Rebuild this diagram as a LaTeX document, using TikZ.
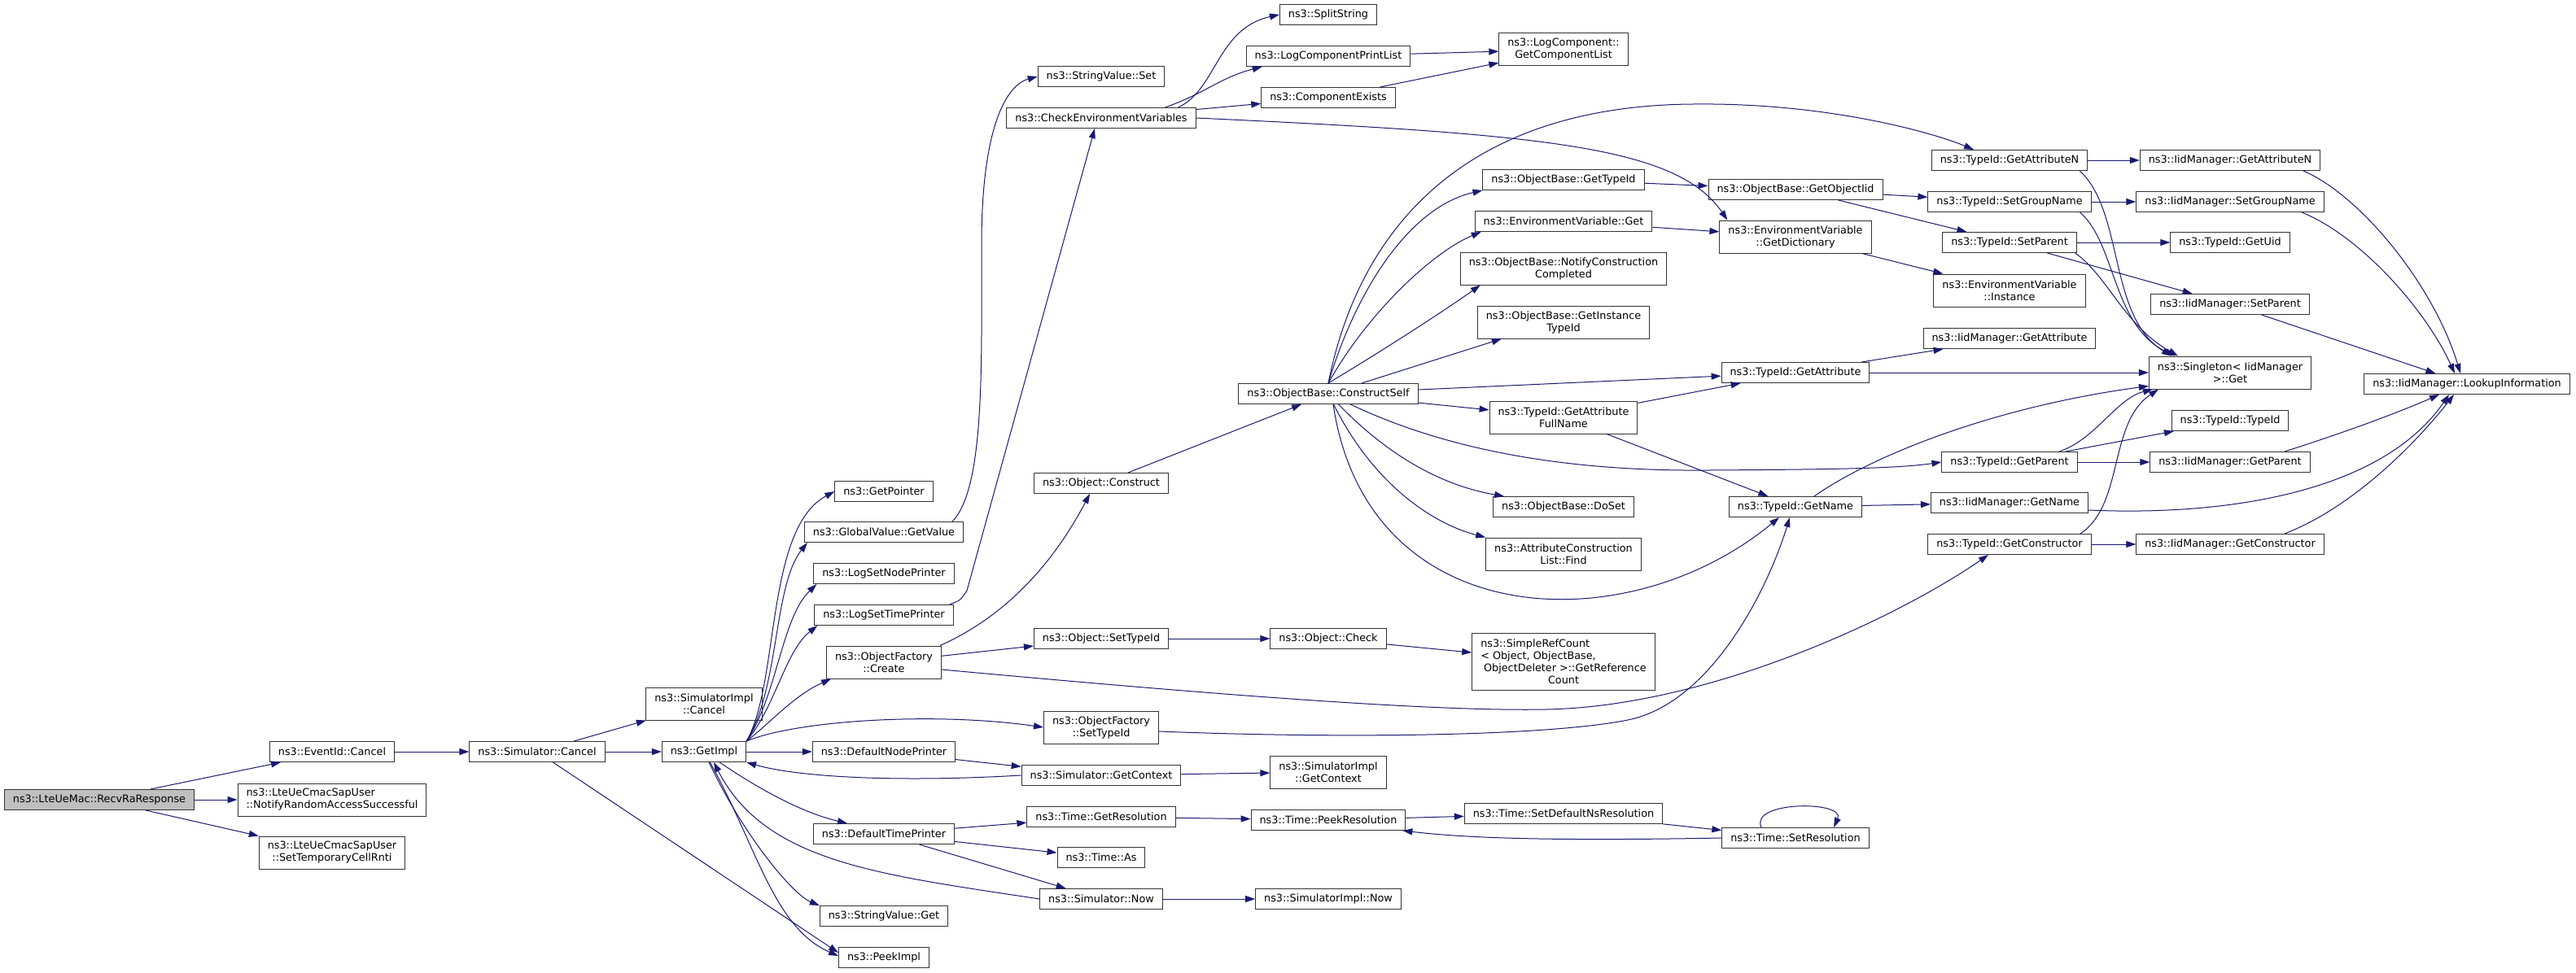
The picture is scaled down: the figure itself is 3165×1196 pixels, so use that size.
\documentclass[tikz,border=0pt]{standalone}
\usepackage{fontspec}
\setmainfont{DejaVu Sans}
\usepackage{xcolor}
\usepackage{tikz}
\usetikzlibrary{arrows.meta,positioning}
\definecolor{edgeblue}{RGB}{25,25,112}
\definecolor{rootgray}{RGB}{191,191,191}

\begin{document}
\begin{tikzpicture}[
      x=1pt, y=-1pt,
      font=\fontsize{12.8}{15}\selectfont,
      >={Triangle[length=12pt,width=8pt]},
      fn/.style={draw=black!80, fill=white, line width=1pt, inner xsep=10.5pt, inner ysep=4pt, minimum height=25pt, align=center},
      fn2/.style={fn, minimum height=40pt},
      fn4/.style={fn, minimum height=70pt},
      rootfn/.style={fn, fill=rootgray},
      calls/.style={->, draw=edgeblue, line width=1pt},
]
\useasboundingbox (0,0) rectangle (3165,1196);

\node[rootfn] (recv_ra) at (122,983) {ns3::LteUeMac::RecvRaResponse};
\node[fn] (event_cancel) at (408,924) {ns3::EventId::Cancel};
\node[fn2, align=left] (notify_ra) at (408,983) {ns3::LteUeCmacSapUser\\::NotifyRandomAccessSuccessful};
\node[fn2] (set_temp_rnti) at (408,1048) {ns3::LteUeCmacSapUser\\::SetTemporaryCellRnti};
\node[fn] (sim_cancel) at (660,924) {ns3::Simulator::Cancel};
\node[fn2] (impl_cancel) at (865,865) {ns3::SimulatorImpl\\::Cancel};
\node[fn] (get_impl) at (865,924) {ns3::GetImpl};

\node[fn] (get_pointer) at (1086,604) {ns3::GetPointer};
\node[fn] (get_value) at (1086,654) {ns3::GlobalValue::GetValue};
\node[fn] (node_printer) at (1086,705) {ns3::LogSetNodePrinter};
\node[fn] (time_printer) at (1086,756) {ns3::LogSetTimePrinter};
\node[fn2] (of_create) at (1086,814) {ns3::ObjectFactory\\::Create};
\node[fn] (def_node) at (1086,924) {ns3::DefaultNodePrinter};
\node[fn] (def_time) at (1086,1025) {ns3::DefaultTimePrinter};
\node[fn] (sv_get) at (1086,1126) {ns3::StringValue::Get};
\node[fn] (peek_impl) at (1086,1177) {ns3::PeekImpl};

\node[fn] (sv_set) at (1353,94) {ns3::StringValue::Set};
\node[fn] (check_env) at (1353,145) {ns3::CheckEnvironmentVariables};
\node[fn] (construct) at (1353,594) {ns3::Object::Construct};
\node[fn] (obj_settid) at (1353,785) {ns3::Object::SetTypeId};
\node[fn2] (of_settid) at (1353,894) {ns3::ObjectFactory\\::SetTypeId};
\node[fn] (sim_ctx) at (1353,953) {ns3::Simulator::GetContext};
\node[fn] (get_res) at (1353,1004) {ns3::Time::GetResolution};
\node[fn] (time_as) at (1353,1054) {ns3::Time::As};
\node[fn] (sim_now) at (1353,1105) {ns3::Simulator::Now};

\node[fn] (split_string) at (1632,18) {ns3::SplitString};
\node[fn] (print_list) at (1632,69) {ns3::LogComponentPrintList};
\node[fn] (comp_exists) at (1632,120) {ns3::ComponentExists};
\node[fn] (construct_self) at (1632,484) {ns3::ObjectBase::ConstructSelf};
\node[fn] (obj_check) at (1632,785) {ns3::Object::Check};
\node[fn2] (impl_ctx) at (1632,949) {ns3::SimulatorImpl\\::GetContext};
\node[fn] (peek_res) at (1632,1008) {ns3::Time::PeekResolution};
\node[fn] (impl_now) at (1632,1105) {ns3::SimulatorImpl::Now};

\node[fn2] (comp_list) at (1921,61) {ns3::LogComponent::\\GetComponentList};
\node[fn] (ob_get_tid) at (1921,221) {ns3::ObjectBase::GetTypeId};
\node[fn] (env_get) at (1921,272) {ns3::EnvironmentVariable::Get};
\node[fn2] (notify_cc) at (1921,330) {ns3::ObjectBase::NotifyConstruction\\Completed};
\node[fn2] (instance_tid) at (1921,396) {ns3::ObjectBase::GetInstance\\TypeId};
\node[fn2] (full_name) at (1921,513) {ns3::TypeId::GetAttribute\\FullName};
\node[fn] (do_set) at (1921,623) {ns3::ObjectBase::DoSet};
\node[fn2] (ac_find) at (1921,681) {ns3::AttributeConstruction\\List::Find};
\node[fn4] (ref_count) at (1921,813) {\begin{tabular}[b]{@{}l@{}}ns3::SimpleRefCount\\< Object, ObjectBase,\\\hspace{0.3em}ObjectDeleter >::GetReference\end{tabular}\\Count};
\node[fn] (set_def_res) at (1921,1000) {ns3::Time::SetDefaultNsResolution};

\node[fn] (get_obj_iid) at (2206,233) {ns3::ObjectBase::GetObjectIid};
\node[fn2] (get_dict) at (2206,291) {ns3::EnvironmentVariable\\::GetDictionary};
\node[fn] (get_attr) at (2206,458) {ns3::TypeId::GetAttribute};
\node[fn] (get_name) at (2206,623) {ns3::TypeId::GetName};
\node[fn] (set_res) at (2206,1030) {ns3::Time::SetResolution};

\node[fn] (get_attr_n) at (2469,197) {ns3::TypeId::GetAttributeN};
\node[fn] (set_group) at (2469,248) {ns3::TypeId::SetGroupName};
\node[fn] (set_parent) at (2469,298) {ns3::TypeId::SetParent};
\node[fn2] (env_inst) at (2469,357) {ns3::EnvironmentVariable\\::Instance};
\node[fn] (iid_get_attr) at (2469,416) {ns3::IidManager::GetAttribute};
\node[fn] (tid_get_parent) at (2469,568) {ns3::TypeId::GetParent};
\node[fn] (iid_get_name) at (2469,618) {ns3::IidManager::GetName};
\node[fn] (get_ctor) at (2469,669) {ns3::TypeId::GetConstructor};

\node[fn] (iid_get_attr_n) at (2740,197) {ns3::IidManager::GetAttributeN};
\node[fn] (iid_set_group) at (2740,248) {ns3::IidManager::SetGroupName};
\node[fn] (get_uid) at (2740,298) {ns3::TypeId::GetUid};
\node[fn] (iid_set_parent) at (2740,374) {ns3::IidManager::SetParent};
\node[fn2] (singleton) at (2740,458) {ns3::Singleton< IidManager\\ >::Get};
\node[fn] (tid_tid) at (2740,517) {ns3::TypeId::TypeId};
\node[fn] (iid_get_parent) at (2740,568) {ns3::IidManager::GetParent};
\node[fn] (iid_get_ctor) at (2740,669) {ns3::IidManager::GetConstructor};
\node[fn] (lookup) at (3031,472) {ns3::IidManager::LookupInformation};

\draw[calls] (recv_ra) -- (event_cancel);
\draw[calls] (recv_ra) -- (notify_ra);
\draw[calls] (recv_ra) -- (set_temp_rnti);
\draw[calls] (event_cancel) -- (sim_cancel);
\draw[calls] (sim_cancel) -- (impl_cancel);
\draw[calls] (sim_cancel) -- (get_impl);
\draw[calls] (sim_cancel) -- ([yshift=6]peek_impl.west);

\draw[calls] (get_impl.north east) .. controls (958,840) and (940,650) .. (get_pointer.west);
\draw[calls] (get_impl.north east) .. controls (958,845) and (950,720) .. ([xshift=4]get_value.south west);
\draw[calls] (get_impl.north east) .. controls (955,855) and (960,760) .. ([xshift=4]node_printer.south west);
\draw[calls] (get_impl.north east) .. controls (952,870) and (965,800) .. ([xshift=4]time_printer.south west);
\draw[calls] (get_impl.north east) .. controls (945,890) and (975,855) .. ([xshift=6]of_create.south west);
\draw[calls] (get_impl.north east) .. controls (980,885) and (1150,875) .. (of_settid.west);
\draw[calls] (get_impl) -- (def_node);
\draw[calls] (get_impl) .. controls (940,975) and (990,1000) .. ([xshift=-45]def_time.north);
\draw[calls] (get_impl) .. controls (915,1030) and (975,1100) .. (sv_get.north west);
\draw[calls] (get_impl) .. controls (930,1040) and (950,1140) .. ([yshift=2]peek_impl.west);

\draw[calls] ([xshift=-14]get_value.north east) .. controls (1210,600) and (1206,450) .. (1206,300) .. controls (1206,160) and (1235,105) .. (sv_set.west);
\draw[calls] ([xshift=-5]time_printer.north east) .. controls (1180,738) .. (1188,726) -- ([xshift=-8]check_env.south);
\draw[calls] ([xshift=-22]check_env.north east) .. controls (1495,110) and (1495,35) .. (split_string.west);
\draw[calls] ([xshift=-38]check_env.north east) .. controls (1480,115) and (1500,95) .. ([xshift=20]print_list.south west);
\draw[calls] (check_env) -- (comp_exists);
\draw[calls] (check_env.east) .. controls (1900,165) and (2060,180) .. ([xshift=10]get_dict.north west);
\draw[calls] (print_list) -- (comp_list);
\draw[calls] (comp_exists) -- (comp_list);

\draw[calls] ([xshift=-2]of_create.north east) .. controls (1230,760) and (1290,700) .. ([xshift=-14]construct.south);
\draw[calls] (of_create) -- (obj_settid);
\draw[calls] ([yshift=-9]of_create.east) .. controls (1450,850) and (1750,875) .. (1900,872) .. controls (2100,868) and (2330,760) .. ([xshift=-26]get_ctor.south);
\draw[calls] ([yshift=-5]of_settid.east) .. controls (1650,908) and (1900,905) .. (2000,885) .. controls (2100,865) and (2170,730) .. ([xshift=-7]get_name.south);
\draw[calls] (construct) -- (construct_self);
\draw[calls] (obj_settid) -- (obj_check);
\draw[calls] (obj_check) -- (ref_count);

\draw[calls] (def_node) -- (sim_ctx);
\draw[calls] (sim_ctx.west) .. controls (1100,962) and (980,955) .. (get_impl.south east);
\draw[calls] (sim_ctx) -- (impl_ctx);
\draw[calls] (def_time) -- (get_res);
\draw[calls] (def_time) -- (time_as);
\draw[calls] (def_time) -- (sim_now);
\draw[calls] (sim_now.west) .. controls (1080,1075) and (940,1060) .. ([xshift=12]get_impl.south);
\draw[calls] (sim_now) -- (impl_now);
\draw[calls] (get_res) -- (peek_res);
\draw[calls] (peek_res) -- (set_def_res);
\draw[calls] (set_def_res) -- (set_res);
\draw[calls] (set_res.west) .. controls (1900,1034) and (1800,1030) .. ([xshift=-4]peek_res.south east);
\draw[calls] ([xshift=-42]set_res.north) .. controls +(-15,-33) and +(15,-33) .. ([xshift=47]set_res.north);

\draw[calls] (construct_self.north) .. controls (1670,280) and (1800,130) .. (2080,128) .. controls (2250,126) and (2380,165) .. ([xshift=-44]get_attr_n.north);
\draw[calls] (construct_self.north) .. controls (1665,360) and (1730,255) .. (ob_get_tid.south west);
\draw[calls] (construct_self.north) .. controls (1680,385) and (1760,310) .. ([xshift=8]env_get.south west);
\draw[calls] (construct_self.north) .. controls (1700,430) and (1770,385) .. ([xshift=25]notify_cc.south west);
\draw[calls] (construct_self) -- ([xshift=30]instance_tid.south west);
\draw[calls] (construct_self) -- (get_attr);
\draw[calls] (construct_self) -- (full_name);
\draw[calls] (construct_self) .. controls (1760,545) and (1900,580) .. (2100,578) .. controls (2250,577) and (2330,576) .. (tid_get_parent.west);
\draw[calls] (construct_self) .. controls (1720,575) and (1790,600) .. ([xshift=14]do_set.north west);
\draw[calls] (construct_self) .. controls (1690,600) and (1765,645) .. (ac_find.north west);
\draw[calls] ([xshift=6]construct_self.south) .. controls (1680,780) and (2000,790) .. ([xshift=-20]get_name.south);

\draw[calls] (ob_get_tid) -- (get_obj_iid);
\draw[calls] (env_get) -- (get_dict);
\draw[calls] (get_obj_iid) -- (set_group);
\draw[calls] (get_obj_iid) -- (set_parent);
\draw[calls] (get_dict) -- (env_inst);
\draw[calls] (full_name) -- (get_attr);
\draw[calls] (full_name) -- (get_name);
\draw[calls] (get_attr) -- (iid_get_attr);
\draw[calls] (get_attr) -- (singleton);
\draw[calls] ([xshift=23]get_name.north) .. controls (2300,560) and (2450,500) .. ([yshift=4]singleton.south west);
\draw[calls] (get_name) -- (iid_get_name);

\draw[calls] (get_attr_n) -- (iid_get_attr_n);
\draw[calls] ([xshift=-10]get_attr_n.south east) .. controls (2610,260) and (2590,390) .. ([xshift=-72]singleton.north);
\draw[calls] (set_group) -- (iid_set_group);
\draw[calls] ([xshift=-14]set_group.south east) .. controls (2600,300) and (2595,400) .. ([xshift=-68]singleton.north);
\draw[calls] (set_parent) -- (get_uid);
\draw[calls] (set_parent) -- (iid_set_parent);
\draw[calls] ([xshift=-2]set_parent.south east) .. controls (2590,340) and (2610,400) .. ([xshift=-64]singleton.north);
\draw[calls] ([xshift=61]tid_get_parent.north) .. controls (2575,540) and (2600,490) .. ([xshift=-95]singleton.south);
\draw[calls] (tid_get_parent) -- (tid_tid);
\draw[calls] (tid_get_parent) -- (iid_get_parent);
\draw[calls] ([xshift=87]get_ctor.north) .. controls (2610,620) and (2590,520) .. ([xshift=-88]singleton.south);
\draw[calls] (get_ctor) -- (iid_get_ctor);

\draw[calls] ([xshift=90]iid_get_attr_n.south) .. controls (2900,240) and (2990,350) .. ([xshift=-8]lookup.north);
\draw[calls] ([xshift=88]iid_set_group.south) .. controls (2900,290) and (2980,380) .. ([xshift=-15]lookup.north);
\draw[calls] (iid_set_parent) -- (lookup);
\draw[calls] ([xshift=67]iid_get_parent.north) .. controls (2870,535) and (2940,510) .. ([xshift=-34]lookup.south);
\draw[calls] ([yshift=-9]iid_get_name.east) .. controls (2750,635) and (2930,600) .. ([xshift=-22]lookup.south);
\draw[calls] ([xshift=67]iid_get_ctor.north) .. controls (2900,620) and (2980,530) .. ([xshift=-16]lookup.south);

\end{tikzpicture}
\end{document}
